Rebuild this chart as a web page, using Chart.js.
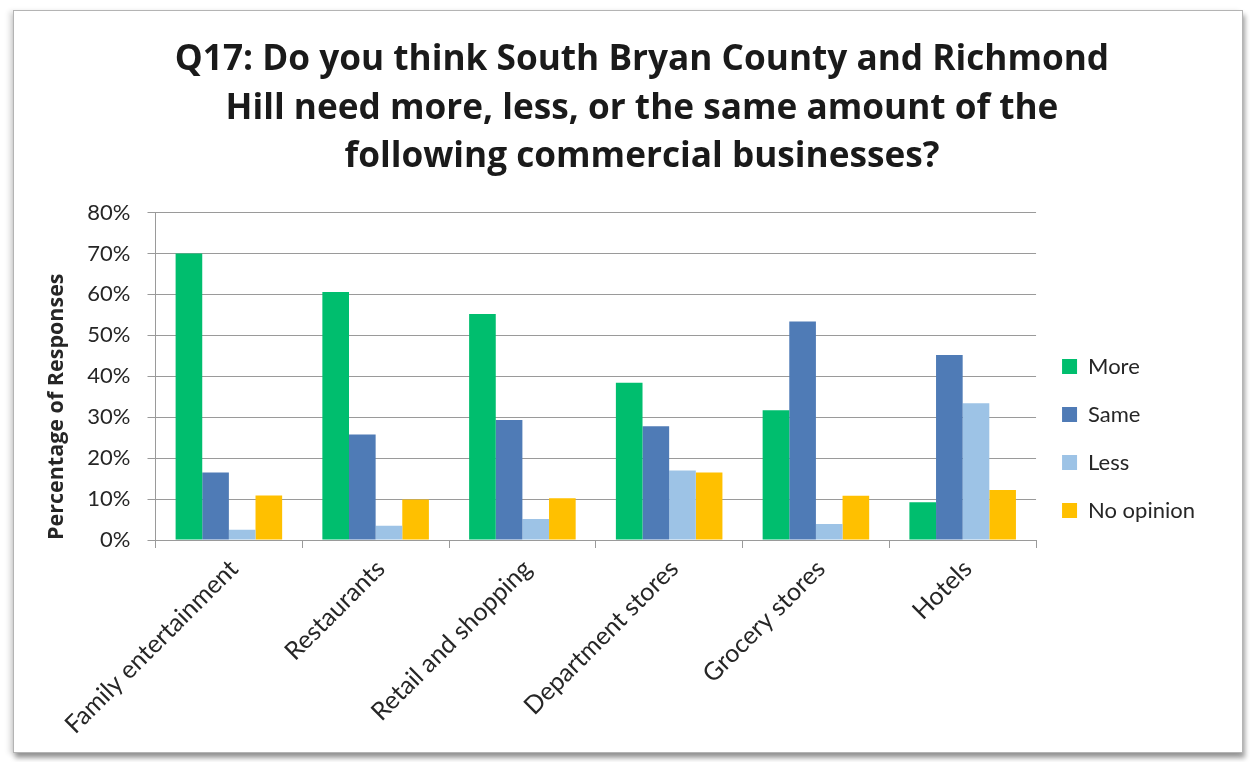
<!DOCTYPE html>
<html>
<head>
<meta charset="utf-8">
<script src="https://cdn.jsdelivr.net/npm/chart.js@4/dist/chart.umd.min.js"></script>
<style>
  html, body { margin: 0; padding: 0; background: #ffffff; }
  body { width: 1250px; height: 762px; position: relative; overflow: hidden; }
  #frame {
    position: absolute; left: 13px; top: 10px; width: 1230px; height: 743px;
    box-sizing: border-box; border: 1px solid #b4b4b4; background: #ffffff;
    box-shadow: 2px 5px 5px rgba(0,0,0,0.38), -4px 1px 5px rgba(0,0,0,0.12);
  }
  #chart { position: absolute; left: 0; top: 0; }
</style>
</head>
<body>
<div id="frame"></div>
<canvas id="chart" width="1250" height="762"></canvas>
<script>
// Survey question Q17: share of responses per business type
const titleLines = [
  'Q17: Do you think South Bryan County and Richmond',
  'Hill need more, less, or the same amount of the',
  'following commercial businesses?'
];
const categories = ['Family entertainment', 'Restaurants', 'Retail and shopping',
                    'Department stores', 'Grocery stores', 'Hotels'];
const seriesNames = ['More', 'Same', 'Less', 'No opinion'];
const moreValues      = [70.0, 60.6, 55.2, 38.4, 31.7, 9.2];
const sameValues      = [16.5, 25.8, 29.3, 27.8, 53.4, 45.2];
const lessValues      = [2.5, 3.5, 5.1, 17.0, 3.9, 33.4];
const noOpinionValues = [10.9, 9.9, 10.2, 16.5, 10.8, 12.2];
const yTickValues = [0, 10, 20, 30, 40, 50, 60, 70, 80];
const yAxisTitle = 'Percentage of Responses';

const seriesColors = ['#00BE6E', '#4F7BB6', '#9DC3E6', '#FFC000'];
const seriesValues = [moreValues, sameValues, lessValues, noOpinionValues];

const textColor = '#262626';
const gridColor = '#9a9a9a';
const baseFont = 'Lato, "Open Sans", sans-serif';
const headFont = '"Open Sans", Lato, sans-serif';

const datasets = seriesNames.map((name, i) => ({
  label: name,
  data: seriesValues[i],
  backgroundColor: seriesColors[i],
  borderWidth: 0,
  categoryPercentage: 0.726,
  barPercentage: 1.0
}));

const bottomPad = 10;

new Chart(document.getElementById('chart'), {
  type: 'bar',
  data: { labels: categories, datasets },
  options: {
    responsive: false,
    animation: false,
    devicePixelRatio: 1,
    layout: { padding: { left: 79, right: 45, top: 0, bottom: bottomPad } },
    plugins: {
      title: {
        display: true,
        text: titleLines,
        color: '#1a1a1a',
        font: { family: headFont, size: 35.2, weight: 'bold', lineHeight: '48.5px' },
        padding: { top: 36, bottom: 31 }
      },
      legend: {
        display: true,
        position: 'right',
        align: 'start',
        fullSize: true,
        // empty heading keeps the key block level with the middle of the bars
        title: { display: true, text: ' ', font: { family: baseFont, size: 22, lineHeight: 1.2 },
                 padding: { top: 303.1, bottom: 0 } },
        labels: {
          boxWidth: 15,
          boxHeight: 15,
          padding: 26,
          color: textColor,
          font: { family: baseFont, size: 22 }
        }
      },
      tooltip: { enabled: false }
    },
    scales: {
      x: {
        grid: {
          display: true,
          offset: true,
          drawOnChartArea: false,
          drawTicks: true,
          tickLength: 8,
          color: gridColor
        },
        border: { display: true, color: gridColor },
        ticks: {
          color: textColor,
          font: { family: baseFont, size: 25 },
          minRotation: 45,
          maxRotation: 45,
          autoSkip: false,
          padding: 6,
          labelOffset: 5
        },
        afterFit: (scale) => { scale.height = 762 - bottomPad - 540; }
      },
      y: {
        min: 0,
        max: 80,
        afterBuildTicks: (scale) => { scale.ticks = yTickValues.map(v => ({ value: v })); },
        grid: {
          color: gridColor,
          drawTicks: true,
          tickLength: 8
        },
        border: { display: true, color: gridColor },
        ticks: {
          color: textColor,
          font: { family: baseFont, size: 22 },
          padding: 17,
          callback: (v) => v + '%'
        },
        title: {
          display: true,
          text: yAxisTitle,
          align: 'start',
          color: textColor,
          font: { family: headFont, size: 21.5, weight: 'bold', lineHeight: 1.2 },
          padding: { top: -35, bottom: 0 }
        },
        afterFit: (scale) => { scale.width = 76.5; }
      }
    }
  }
});
</script>
</body>
</html>
